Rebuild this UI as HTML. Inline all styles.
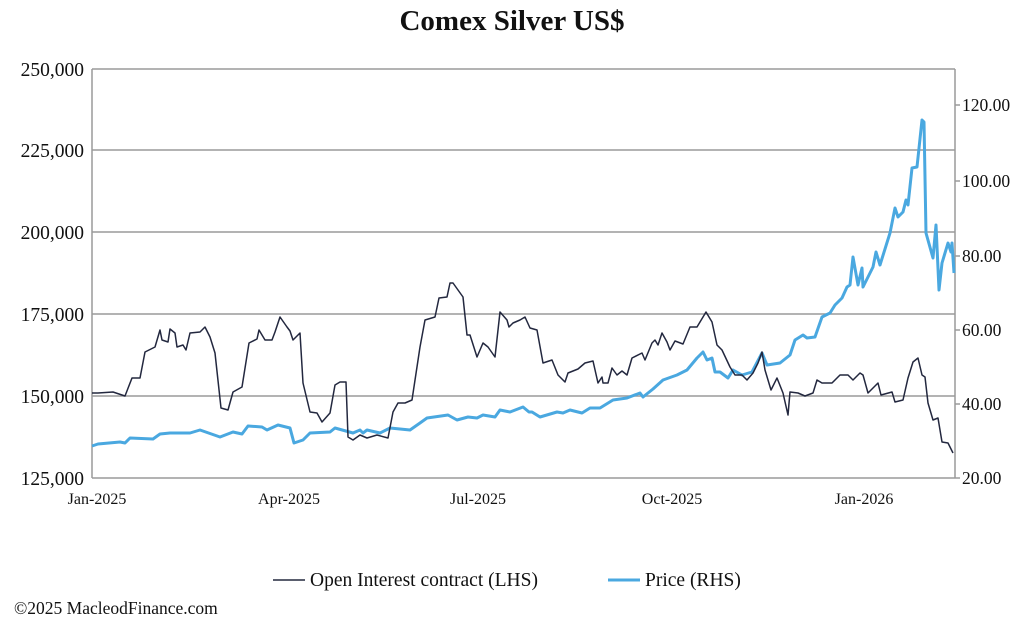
<!DOCTYPE html>
<html><head><style>
body{margin:0;background:#fff;}
svg text{font-family:"Liberation Serif",serif;fill:#111;}
</style></head><body>
<svg width="1024" height="625" xmlns="http://www.w3.org/2000/svg">
<text x="512" y="30" text-anchor="middle" font-size="29" font-weight="bold">Comex Silver US$</text>
<g stroke="#9a9a9a" stroke-width="1.5">
<line x1="92" y1="69" x2="955" y2="69"/>
<line x1="92" y1="150" x2="955" y2="150"/>
<line x1="92" y1="232" x2="955" y2="232"/>
<line x1="92" y1="314" x2="955" y2="314"/>
<line x1="92" y1="396" x2="955" y2="396"/>
<line x1="92" y1="478" x2="955" y2="478"/>
<line x1="92" y1="69" x2="92" y2="478"/>
<line x1="955" y1="69" x2="955" y2="478"/>
<line x1="955" y1="105" x2="960" y2="105"/><line x1="955" y1="181" x2="960" y2="181"/>
<line x1="955" y1="256" x2="960" y2="256"/><line x1="955" y1="330" x2="960" y2="330"/>
<line x1="955" y1="404" x2="960" y2="404"/><line x1="955" y1="478" x2="960" y2="478"/>
</g>
<g font-size="19.5" text-anchor="end">
<text x="84" y="76">250,000</text><text x="84" y="157">225,000</text>
<text x="84" y="239">200,000</text><text x="84" y="321">175,000</text>
<text x="84" y="403">150,000</text><text x="84" y="485">125,000</text>
</g>
<g font-size="17.5">
<text x="962" y="111">120.00</text><text x="962" y="187">100.00</text>
<text x="962" y="262">80.00</text><text x="962" y="336">60.00</text>
<text x="962" y="410">40.00</text><text x="962" y="484">20.00</text>
</g>
<g font-size="16" text-anchor="middle">
<text x="97" y="504">Jan-2025</text><text x="289" y="504">Apr-2025</text>
<text x="478" y="504">Jul-2025</text><text x="672" y="504">Oct-2025</text>
<text x="864" y="504">Jan-2026</text>
</g>
<polyline fill="none" stroke="#4aa8e0" stroke-width="3" stroke-linejoin="round" points="92,446 98,444 120,442 125,443 130,438 153,439 160,434 170,433 190,433 200,430 220,437 233,432 242,434 248,426 262,427 267,430 278,425 290,428 294,443 303,440 310,433 330,432 335,428 353,433 360,430 363,433 367,430 380,433 390,428 410,430 420,423 427,418 448,415 457,420 468,417 477,418 483,415 495,417 500,410 510,412 523,407 529,412 532,412 540,417 557,412 563,413 570,410 582,413 590,408 600,408 613,400 627,398 640,393 643,397 653,389 663,380 677,375 687,370 697,358 703,352 707,360 712,358 715,372 720,372 728,378 733,370 742,375 752,372 762,353 767,365 780,363 790,355 795,340 803,335 807,338 815,337 822,317 830,313 835,305 842,298 847,287 850,285 853,257 858,285 862,268 863,287 873,267 876,252 880,265 890,233 895,208 898,217 903,212 906,200 908,205 912,168 917,167 922,120 924,122 926,233 933,258 936,225 939,290 942,263 948,243 951,252 952,243 954,273"/>
<polyline fill="none" stroke="#23283f" stroke-width="1.5" stroke-linejoin="round" points="92,393 98,393 113,392 125,396 132,378 140,378 145,352 155,347 160,330 162,340 168,342 170,329 175,333 177,347 183,345 186,350 190,333 200,332 205,327 210,337 215,353 221,408 228,410 233,392 242,387 249,343 257,339 259,330 265,340 272,340 275,332 280,317 287,327 290,331 293,340 300,333 303,383 310,412 317,413 322,422 330,413 335,385 340,382 346,382 348,437 353,440 360,435 367,438 377,435 388,438 393,412 398,403 405,403 412,400 420,347 425,320 435,317 439,298 447,297 450,283 453,283 463,297 467,335 470,335 477,357 483,343 488,347 495,357 500,312 507,320 509,327 513,323 520,320 525,317 530,328 537,330 543,363 552,360 558,375 565,382 568,373 578,369 585,363 593,361 598,383 602,377 603,383 608,383 612,368 617,375 622,371 627,375 632,358 642,353 645,360 652,343 655,340 658,345 662,333 667,342 670,350 675,341 683,344 690,327 697,327 706,312 712,322 717,345 722,350 730,367 735,375 742,375 747,380 753,373 758,363 762,352 765,370 771,390 777,378 783,393 788,415 790,392 798,393 805,396 813,393 817,380 822,383 832,383 840,375 848,375 853,380 860,373 863,375 868,393 878,383 881,395 892,392 895,402 903,400 908,378 913,362 918,358 922,375 925,377 928,403 933,420 938,418 942,442 948,443 953,453"/>
<line x1="273" y1="580" x2="305" y2="580" stroke="#23283f" stroke-width="1.5"/>
<text x="310" y="586" font-size="19.5">Open Interest contract (LHS)</text>
<line x1="608" y1="580" x2="640" y2="580" stroke="#4aa8e0" stroke-width="3"/>
<text x="645" y="586" font-size="19.5">Price (RHS)</text>
<text x="14" y="614" font-size="17.5">©2025 MacleodFinance.com</text>
</svg>
</body></html>
